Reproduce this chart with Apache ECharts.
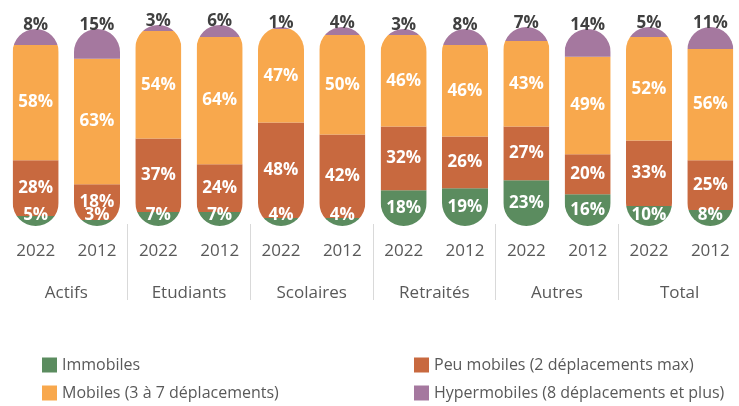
<!DOCTYPE html>
<html>
<head>
<meta charset="utf-8">
<script src="https://cdn.jsdelivr.net/npm/echarts@6/dist/echarts.min.js"></script>
<style>
  html, body { margin: 0; padding: 0; background: #fff; }
  #chart { width: 739px; height: 406px; }
</style>
</head>
<body>
<div id="chart"></div>
<script>
const groups = ["Actifs", "Etudiants", "Scolaires", "Retraités", "Autres", "Total"];
const years = ["2022", "2012", "2022", "2012", "2022", "2012", "2022", "2012", "2022", "2012", "2022", "2012"];

const seriesNames = [
  "Immobiles",
  "Peu mobiles (2 déplacements max)",
  "Mobiles (3 à 7 déplacements)",
  "Hypermobiles (8 déplacements et plus)"
];
const immobiles = [5, 3, 7, 7, 4, 4, 18, 19, 23, 16, 10, 8];
const peuMobiles = [28, 18, 37, 24, 48, 42, 32, 26, 27, 20, 33, 25];
const mobiles = [58, 63, 54, 64, 47, 50, 46, 46, 43, 49, 52, 56];
const hypermobiles = [8, 15, 3, 6, 1, 4, 3, 8, 7, 14, 5, 11];

const colors = ["#5b8c5f", "#c8693f", "#f8a84d", "#a5789f"];
const FONT = "'Open Sans', 'Noto Sans', sans-serif";

const stack = [immobiles, peuMobiles, mobiles, hypermobiles];
const totals = years.map((_, i) => stack.reduce((s, arr) => s + arr[i], 0));

function buildData(k) {
  return years.map((_, i) => {
    let base = 0;
    for (let j = 0; j < k; j++) base += stack[j][i];
    return [i, base, base + stack[k][i], totals[i], stack[k][i]];
  });
}

function makeRender(k) {
  return function (params, api) {
    const x = api.value(0);
    const y0 = api.value(1);
    const y1 = api.value(2);
    const tot = api.value(3);
    const val = api.value(4);
    const bottom = api.coord([x, 0]);
    const top = api.coord([x, tot]);
    const a = api.coord([x, y0]);
    const b = api.coord([x, y1]);
    const w = api.size([1, 0])[0] * 0.75;
    const left = a[0] - w / 2;
    const mid = (a[1] + b[1]) / 2;
    let ly = mid;
    let fill = "#ffffff";
    if (k === 0) ly = Math.min(mid, bottom[1] - 11);
    if (k === 3) { ly = top[1] - 4; fill = "#404040"; }
    return {
      type: "group",
      children: [
        {
          type: "rect",
          shape: { x: left, y: b[1], width: w, height: a[1] - b[1] },
          style: { fill: api.visual("color") },
          clipPath: {
            type: "rect",
            shape: { x: left, y: top[1], width: w, height: bottom[1] - top[1], r: w / 2 }
          }
        },
        {
          type: "text",
          x: a[0],
          y: ly,
          z2: 10,
          style: {
            text: val + "%",
            fill: fill,
            font: "bold 17px " + FONT,
            align: "center",
            verticalAlign: "middle"
          }
        }
      ]
    };
  };
}

const chart = echarts.init(document.getElementById("chart"), null, { renderer: "canvas" });

const legendBase = {
  orient: "vertical",
  top: 357,
  padding: 0,
  icon: "rect",
  itemWidth: 15,
  itemHeight: 15,
  itemGap: 12,
  textStyle: { color: "#595959", fontSize: 16, fontFamily: FONT }
};

chart.setOption({
  animation: false,
  color: colors,
  grid: { left: 5, top: 27, width: 736, height: 199, outerBoundsMode: "none", containLabel: false },
  legend: [
    Object.assign({}, legendBase, { left: 42, data: [seriesNames[0], seriesNames[2]] }),
    Object.assign({}, legendBase, { left: 414, data: [seriesNames[1], seriesNames[3]] })
  ],
  xAxis: [
    {
      type: "category",
      data: years,
      position: "bottom",
      axisLine: { show: false },
      axisTick: { show: false },
      axisLabel: { color: "#595959", fontSize: 17, fontFamily: FONT, margin: 17, interval: 0 }
    },
    {
      type: "category",
      data: groups,
      position: "bottom",
      offset: -2,
      axisLine: { show: false },
      axisTick: {
        show: true,
        length: 76,
        interval: (i) => i > 0,
        lineStyle: { color: "#d9d9d9", width: 1 }
      },
      axisLabel: { color: "#595959", fontSize: 17, fontFamily: FONT, margin: 61, interval: 0 }
    }
  ],
  yAxis: {
    type: "value",
    min: 0,
    max: 100,
    show: false,
    splitLine: { show: false }
  },
  series: seriesNames.map((name, k) => ({
    name: name,
    type: "custom",
    coordinateSystem: "cartesian2d",
    xAxisIndex: 0,
    itemStyle: { color: colors[k] },
    encode: { x: 0, y: [1, 2] },
    renderItem: makeRender(k),
    data: buildData(k)
  }))
});
</script>
</body>
</html>
